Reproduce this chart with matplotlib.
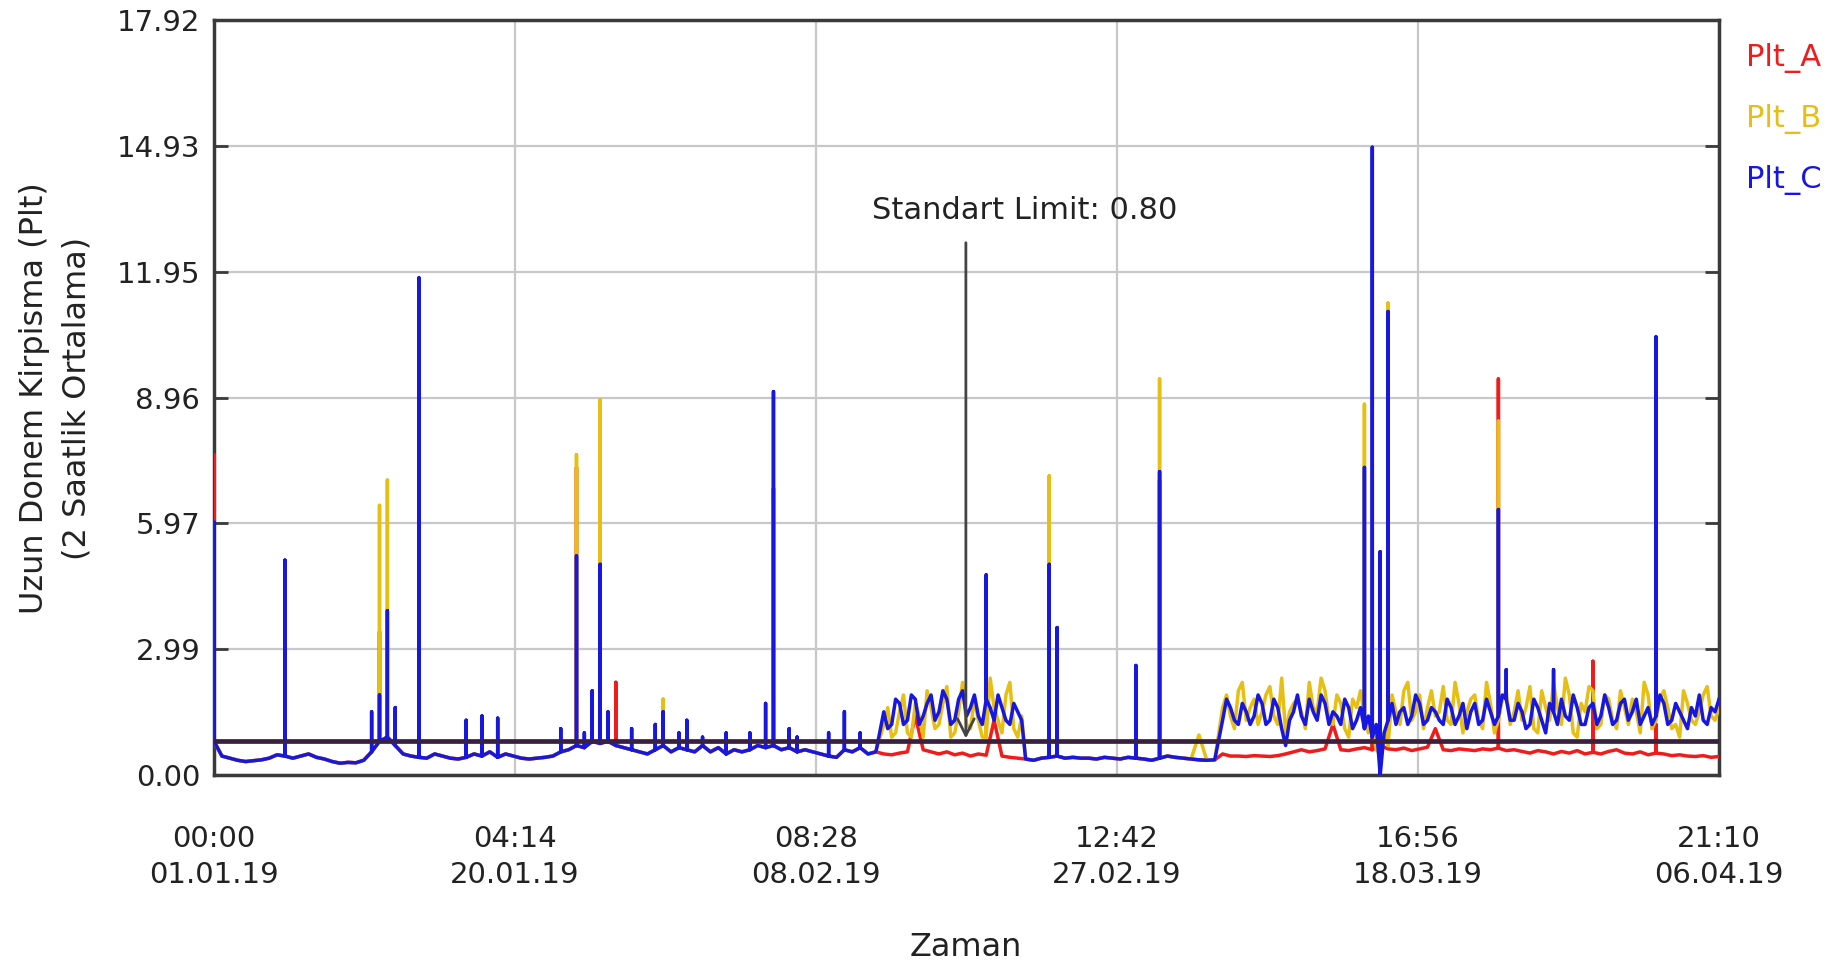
import matplotlib
matplotlib.use("Agg")
import matplotlib.pyplot as plt
import numpy as np

# time span: 00:00 01.01.19 -> 21:10 06.04.19 (in days)
T_END = 95 + 21 / 24 + 10 / 1440

x_tick_labels = ["00:00\n01.01.19", "04:14\n20.01.19", "08:28\n08.02.19",
                 "12:42\n27.02.19", "16:56\n18.03.19", "21:10\n06.04.19"]
y_tick_values = [0.00, 2.99, 5.97, 8.96, 11.95, 14.93, 17.92]
limit_value = 0.80

# half-day samples of the 2-hour averaged Plt
plt_c = [
    0.80, 0.45, 0.40, 0.35, 0.32, 0.34, 0.36, 0.40, 0.48, 0.45, 0.40, 0.45, 0.50, 0.42, 0.38, 0.32, 0.28, 0.30, 0.29, 0.35,
    0.55, 0.80, 0.90, 0.70, 0.50, 0.45, 0.42, 0.40, 0.50, 0.45, 0.40, 0.38, 0.42, 0.50, 0.45, 0.55, 0.42, 0.50, 0.45, 0.40,
    0.38, 0.40, 0.42, 0.45, 0.55, 0.60, 0.70, 0.65, 0.80, 0.75, 0.80, 0.70, 0.65, 0.60, 0.55, 0.50, 0.60, 0.70, 0.55, 0.65,
    0.60, 0.55, 0.70, 0.55, 0.65, 0.50, 0.60, 0.55, 0.60, 0.70, 0.65, 0.70, 0.60, 0.65, 0.55, 0.60, 0.55, 0.50, 0.45, 0.42,
    0.60, 0.55, 0.65, 0.50, 0.55, 1.50, 1.20, 1.70, 1.30, 1.80, 1.40, 1.90, 1.50, 1.80, 1.30, 2.00, 1.60, 1.40, 1.80, 1.30,
    1.60, 1.20, 1.50, 0.38, 0.35, 0.40, 0.42, 0.45, 0.40, 0.42, 0.40, 0.40, 0.38, 0.42, 0.40, 0.38, 0.42, 0.40, 0.38, 0.35,
    0.40, 0.45, 0.42, 0.40, 0.38, 0.36, 0.35, 0.36, 1.30, 1.60, 1.20, 1.50, 1.40, 1.70, 1.30, 1.60, 0.70, 1.50, 1.40, 1.80,
    1.30, 1.70, 1.50, 1.20, 1.60, 1.30, 1.10, 0.90, 0.00, 1.30, 1.20, 1.60, 1.40, 1.70, 1.30, 1.50, 1.20, 1.60, 1.40, 1.10,
    1.70, 1.30, 1.50, 1.40, 1.80, 1.30, 1.50, 1.20, 1.60, 1.00, 1.50, 1.80, 1.30, 1.60, 1.20, 1.70, 1.40, 1.60, 1.30, 1.80,
    1.50, 1.20, 1.60, 1.40, 1.70, 1.30, 1.50, 1.10, 1.40, 1.30, 1.60, 1.80,
]
plt_b = [
    0.80, 0.45, 0.40, 0.35, 0.32, 0.34, 0.36, 0.40, 0.48, 0.45, 0.40, 0.45, 0.50, 0.42, 0.38, 0.32, 0.28, 0.30, 0.29, 0.35,
    0.55, 0.80, 0.90, 0.70, 0.50, 0.45, 0.42, 0.40, 0.50, 0.45, 0.40, 0.38, 0.42, 0.50, 0.45, 0.55, 0.42, 0.50, 0.45, 0.40,
    0.38, 0.40, 0.42, 0.45, 0.55, 0.60, 0.70, 0.65, 0.80, 0.75, 0.80, 0.70, 0.65, 0.60, 0.55, 0.50, 0.60, 0.70, 0.55, 0.65,
    0.60, 0.55, 0.70, 0.55, 0.65, 0.50, 0.60, 0.55, 0.60, 0.70, 0.65, 0.70, 0.60, 0.65, 0.55, 0.60, 0.55, 0.50, 0.45, 0.42,
    0.60, 0.55, 0.65, 0.50, 0.55, 1.20, 0.90, 1.50, 1.00, 1.70, 0.90, 1.60, 1.20, 2.10, 1.00, 2.20, 1.10, 1.30, 0.90, 1.60,
    1.00, 2.20, 0.90, 0.38, 0.35, 0.40, 0.42, 0.45, 0.40, 0.42, 0.40, 0.40, 0.38, 0.42, 0.40, 0.38, 0.42, 0.40, 0.38, 0.35,
    0.40, 0.45, 0.42, 0.40, 0.38, 0.95, 0.35, 0.36, 1.60, 1.40, 2.00, 1.30, 1.80, 1.50, 2.10, 1.20, 1.00, 1.70, 1.50, 2.20,
    1.50, 2.00, 1.20, 1.70, 0.90, 1.60, 1.40, 1.20, 0.50, 0.70, 1.50, 2.00, 1.30, 1.90, 1.60, 1.40, 2.10, 1.20, 1.70, 1.50,
    1.90, 1.10, 1.70, 1.30, 2.00, 1.50, 1.30, 2.10, 1.00, 1.60, 2.20, 1.20, 1.90, 0.90, 1.50, 2.00, 1.20, 1.80, 1.10, 1.60,
    1.80, 1.00, 1.90, 1.30, 2.00, 1.10, 0.90, 1.70, 1.20, 1.90, 1.40, 1.60,
]
plt_a = [
    0.80, 0.45, 0.40, 0.35, 0.32, 0.34, 0.36, 0.40, 0.48, 0.45, 0.40, 0.45, 0.50, 0.42, 0.38, 0.32, 0.28, 0.30, 0.29, 0.35,
    0.55, 0.80, 0.90, 0.70, 0.50, 0.45, 0.42, 0.40, 0.50, 0.45, 0.40, 0.38, 0.42, 0.50, 0.45, 0.55, 0.42, 0.50, 0.45, 0.40,
    0.38, 0.40, 0.42, 0.45, 0.55, 0.60, 0.70, 0.65, 0.80, 0.75, 0.80, 0.70, 0.65, 0.60, 0.55, 0.50, 0.60, 0.70, 0.55, 0.65,
    0.60, 0.55, 0.70, 0.55, 0.65, 0.50, 0.60, 0.55, 0.60, 0.70, 0.65, 0.70, 0.60, 0.65, 0.55, 0.60, 0.55, 0.50, 0.45, 0.42,
    0.60, 0.55, 0.65, 0.50, 0.55, 0.50, 0.48, 0.52, 0.55, 1.40, 0.60, 0.55, 0.50, 0.55, 0.48, 0.52, 0.45, 0.50, 0.47, 1.30,
    0.45, 0.42, 0.40, 0.38, 0.35, 0.40, 0.42, 0.45, 0.40, 0.42, 0.40, 0.40, 0.38, 0.42, 0.40, 0.38, 0.42, 0.40, 0.38, 0.35,
    0.40, 0.45, 0.42, 0.40, 0.38, 0.36, 0.35, 0.36, 0.50, 0.45, 0.45, 0.44, 0.46, 0.45, 0.44, 0.46, 0.50, 0.55, 0.60, 0.55,
    0.58, 0.62, 1.20, 0.60, 0.58, 0.62, 0.65, 0.60, 0.70, 0.62, 0.60, 0.64, 0.58, 0.62, 0.66, 1.10, 0.60, 0.58, 0.62, 0.60,
    0.58, 0.62, 0.60, 0.64, 0.58, 0.60, 0.56, 0.52, 0.58, 0.55, 0.50, 0.56, 0.52, 0.58, 0.50, 0.54, 0.50, 0.56, 0.60, 0.52,
    0.50, 0.55, 0.48, 0.52, 0.50, 0.46, 0.48, 0.45, 0.44, 0.46, 0.42, 0.44,
]

# extra samples between the half-day ones inside the two noisy stretches
FEB_BAND_START = 85
MAR_BAND_START = 128
c_mid_feb = [1.1, 1.8, 1.2, 1.9, 1.2, 1.7, 1.3, 2.0, 1.2, 1.8, 1.4, 1.9, 1.2, 1.6, 1.9, 1.3, 1.7, 1.3]
b_mid_feb = [1.6, 1.0, 1.9, 0.9, 1.4, 2.0, 1.1, 1.7, 0.9, 1.5, 1.2, 1.8, 0.9, 2.3, 1.3, 1.9, 1.1, 1.4]
c_mid_mar = [
    1.8, 1.3, 1.7, 1.2, 1.9, 1.2, 1.8, 1.1, 1.3, 1.9, 1.2, 1.5,
    1.9, 1.2, 1.4, 1.8, 1.1, 1.6, 1.4, 1.2, 1.0, 1.7, 1.5, 1.2, 1.9, 1.2, 1.6, 1.3, 1.8, 1.2, 1.7, 1.5,
    1.2, 1.8, 1.2, 1.9, 1.3, 1.7, 1.1, 1.8, 1.3, 1.7, 1.2, 1.4, 1.9, 1.2, 1.6, 1.2, 1.9, 1.2, 1.7, 1.3,
    1.8, 1.4, 1.2, 1.9, 1.2, 1.7, 1.3, 1.6, 1.9, 1.2, 1.5,
]
b_mid_mar = [
    1.9, 1.1, 2.2, 1.6, 1.2, 1.9, 1.4, 2.3, 1.5, 1.8, 1.1, 1.6,
    2.3, 1.3, 1.9, 1.1, 1.8, 2.0, 1.0, 0.6, 1.0, 1.9, 1.2, 2.2, 1.5, 1.1, 2.0, 1.5, 1.3, 2.2, 1.0, 1.8,
    1.3, 2.2, 1.0, 1.8, 1.2, 2.0, 1.6, 1.1, 2.0, 1.3, 1.6, 2.3, 1.0, 1.7, 2.1, 1.1, 1.9, 1.3, 2.0, 1.2,
    1.5, 2.2, 1.1, 1.8, 1.6, 1.2, 2.0, 1.3, 1.5, 2.1, 1.3,
]

# short peaks (day, Plt)
spikes_a = [(0.1, 7.6), (10.3, 3.4), (23.0, 7.3), (25.6, 2.2), (35.5, 6.8), (53.0, 4.5),
            (60.3, 7.0), (73.9, 1.0), (81.7, 9.4), (87.7, 2.7), (91.9, 1.2)]
spikes_b = [(0.1, 5.5), (10.3, 6.4), (11.0, 7.0), (23.0, 7.6), (24.7, 8.9), (28.6, 1.8),
            (35.5, 6.5), (49.0, 2.4), (53.0, 7.1), (60.3, 9.4), (73.4, 6.3), (73.5, 8.8),
            (74.9, 11.2), (81.7, 8.4), (91.9, 3.0)]
spikes_c = [(0.1, 6.0), (0.2, 4.3), (4.3, 5.1), (10.0, 1.5), (10.4, 1.9), (11.0, 3.9),
            (11.3, 1.6), (13.3, 11.8), (16.2, 1.3), (16.9, 1.4), (17.9, 1.3), (18.3, 1.35),
            (22.3, 1.1), (23.0, 5.2), (23.4, 1.0), (24.1, 2.0), (24.7, 5.0), (25.1, 1.5),
            (26.5, 1.1), (28.1, 1.2), (28.6, 1.5), (29.4, 1.0), (30.2, 1.3), (31.1, 0.9),
            (32.4, 1.0), (34.1, 1.0), (34.9, 1.7), (35.5, 9.1), (36.5, 1.1), (37.2, 0.9),
            (39.2, 1.0), (40.0, 1.5), (41.1, 1.0), (49.4, 4.75), (53.0, 5.0), (53.5, 3.5),
            (58.6, 2.6), (60.3, 7.2), (73.4, 6.0), (73.5, 7.3), (73.9, 14.9), (74.3, 5.3),
            (74.9, 11.0), (81.7, 6.3), (82.2, 2.5), (85.1, 2.5), (91.9, 10.4)]


def build_path(t, base, spikes, mids=()):
    # peaks become vertical needles on the nearest sample,
    # mid samples are placed halfway to the next sample
    step = t[1] - t[0]
    extra = {}
    for day, peak in spikes:
        extra.setdefault(int(round(day / step)), []).append(peak)
    halfway = {}
    for start, vals in mids:
        for k, v in enumerate(vals):
            halfway[start + k] = v
    xs, ys = [], []
    for i, (ti, vi) in enumerate(zip(t, base)):
        xs.append(ti)
        ys.append(vi)
        for p in extra.get(i, []):
            xs += [ti, ti]
            ys += [p, vi]
        if i in halfway and i + 1 < len(t):
            xs.append(ti + step / 2)
            ys.append(halfway[i])
    return xs, ys


t = np.linspace(0, T_END, len(plt_c))

fig = plt.figure(figsize=(18.34, 9.66), dpi=100)
ax = fig.add_axes([0.1167, 0.1977, 0.8206, 0.7816])

red, gold, blue = "#f01c1c", "#e6bf12", "#1717e0"
series = [
    (plt_a, spikes_a, (), red),
    (plt_b, spikes_b, ((FEB_BAND_START, b_mid_feb), (MAR_BAND_START, b_mid_mar)), gold),
    (plt_c, spikes_c, ((FEB_BAND_START, c_mid_feb), (MAR_BAND_START, c_mid_mar)), blue),
]
for base, spikes, mids, color in series:
    xs, ys = build_path(t, base, spikes, mids)
    ax.plot(xs, ys, color=color, lw=2.5, zorder=3)

ax.axhline(limit_value, color="#3a2040", lw=3.4, zorder=4)

ax.annotate("", xy=(47.9, 0.80), xytext=(47.9, 12.7),
            arrowprops=dict(arrowstyle="->", color="#444444", lw=2, mutation_scale=30), zorder=5)
ax.text(41.9, 13.4, "Standart Limit: 0.80", fontsize=22, color="#222222", ha="left", va="center")

ax.set_xlim(0, T_END)
ax.set_ylim(0, 17.92)
ax.set_xticks(np.linspace(0, T_END, len(x_tick_labels)))
ax.set_xticklabels(x_tick_labels, linespacing=1.35)
ax.set_yticks(y_tick_values)
ax.set_yticklabels([f"{v:.2f}" for v in y_tick_values])

ax.grid(True, color="#c8c8c8", lw=1.6)
ax.set_axisbelow(True)
for s in ax.spines.values():
    s.set_color("#3a3a3a")
    s.set_linewidth(2.5)

ax.tick_params(axis="y", direction="in", length=10, width=2, color="#3a3a3a",
               left=True, right=True, labelsize=21, pad=10, labelcolor="#222222")
ax.tick_params(axis="x", length=0, labelsize=21, pad=36, labelcolor="#222222")

fig.text(56 / 1834, 1 - 398 / 966, "Uzun Donem Kirpisma (Plt)\n(2 Saatlik Ortalama)",
         rotation=90, ha="center", va="center", multialignment="center", fontsize=23,
         color="#222222", linespacing=1.5)
fig.text(966 / 1834, 1 - 947 / 966, "Zaman", ha="center", va="center", fontsize=23, color="#222222")

legend_items = [("Plt_A", red), ("Plt_B", gold), ("Plt_C", blue)]
for k, (name, color) in enumerate(legend_items):
    fig.text(1746 / 1834, 1 - (58 + 61 * k) / 966, name, color=color, fontsize=22,
             ha="left", va="center")

fig.savefig("out.png", dpi=100)
